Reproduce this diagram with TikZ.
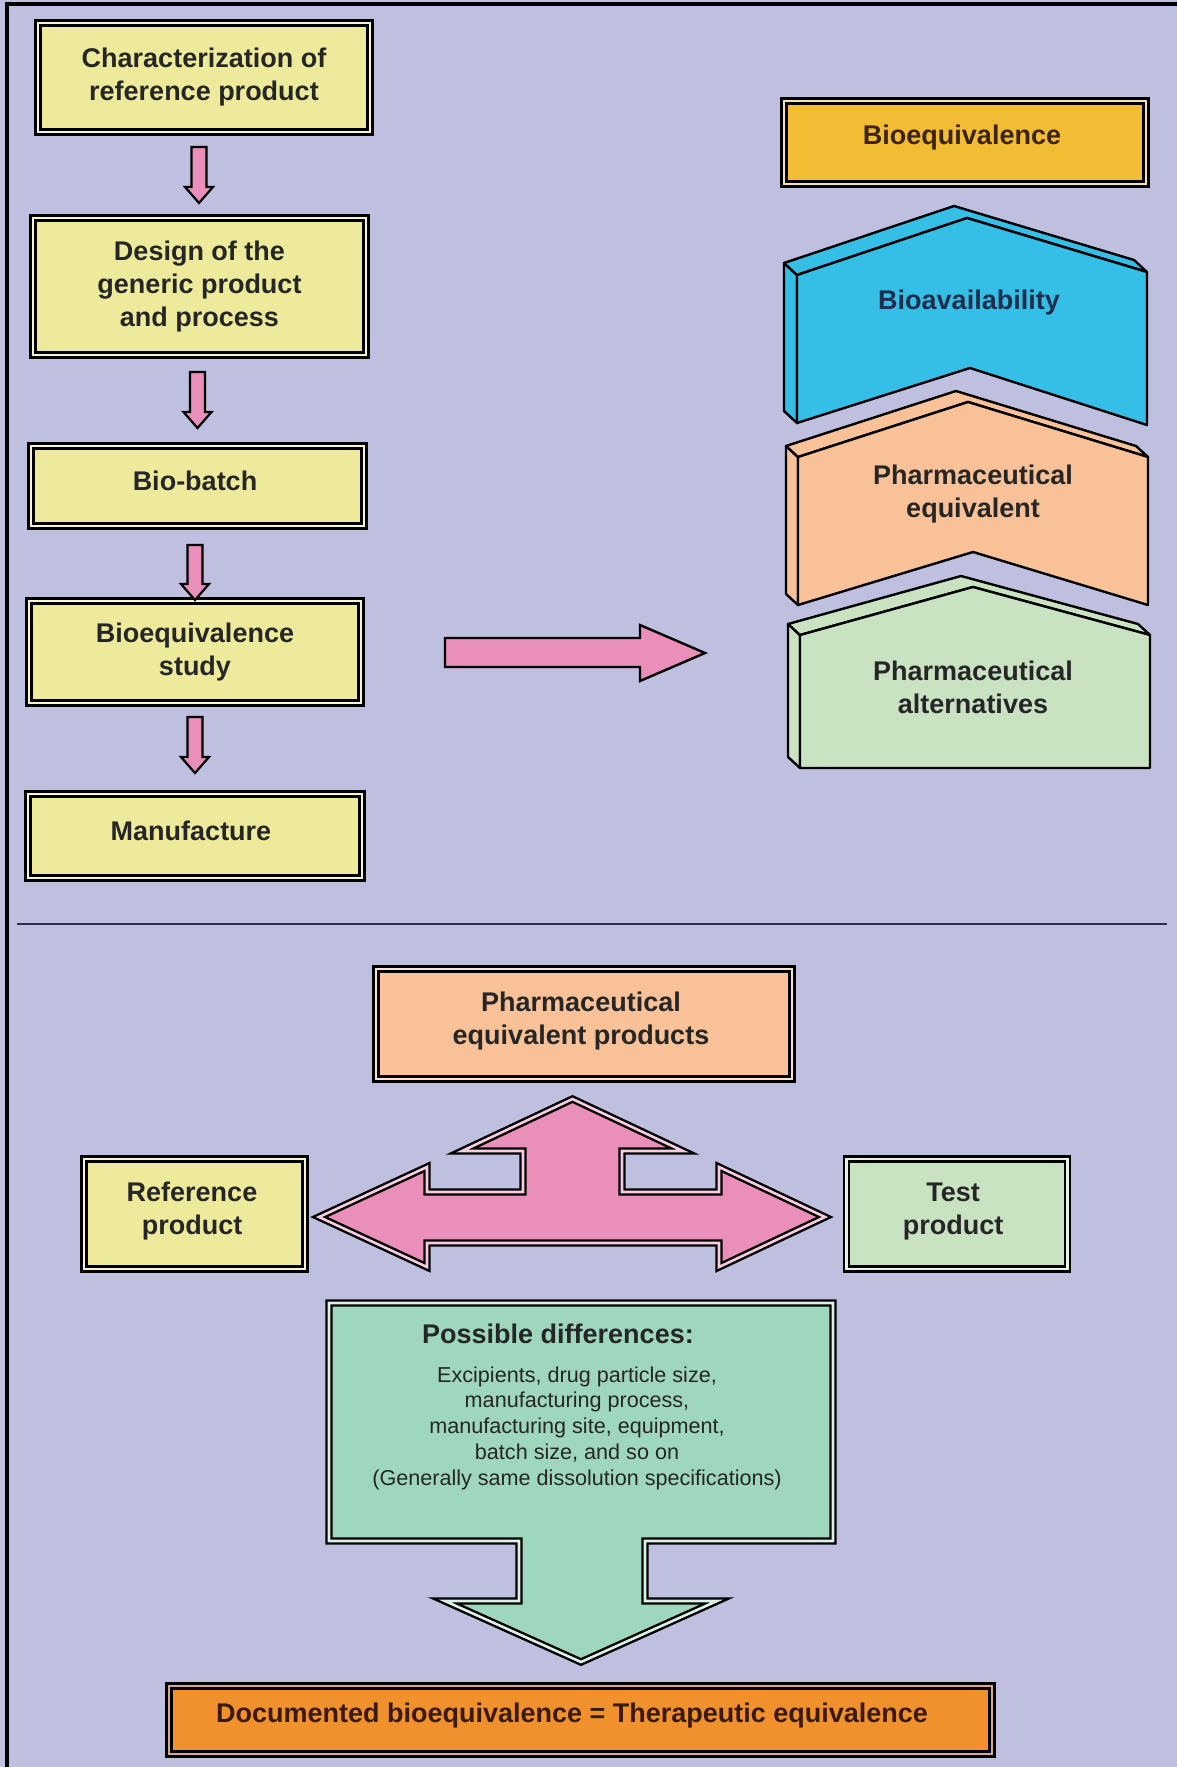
\documentclass[tikz,border=0pt]{standalone}
\usepackage{fontspec}
\setmainfont{Liberation Sans}
\definecolor{bgc}{HTML}{BFC0E0}
\definecolor{yel}{HTML}{EEEA9C}
\definecolor{yelgap}{HTML}{F7F4D2}
\definecolor{gold}{HTML}{F2BD34}
\definecolor{goldgap}{HTML}{F3E2B0}
\definecolor{bluec}{HTML}{35BEE6}
\definecolor{peach}{HTML}{F8C198}
\definecolor{peachgap}{HTML}{F9E2D2}
\definecolor{greenc}{HTML}{C8E2C2}
\definecolor{greengap}{HTML}{E6F2E2}
\definecolor{pinkc}{HTML}{EA8EBA}
\definecolor{pinkgap}{HTML}{F6CCE0}
\definecolor{mint}{HTML}{9ED7BE}
\definecolor{mintgap}{HTML}{DDF0E6}
\definecolor{orangec}{HTML}{F0912E}
\definecolor{orangegap}{HTML}{D8A894}
\definecolor{txtc}{HTML}{262626}
\definecolor{navyc}{HTML}{1F2E4A}
\definecolor{brownc}{HTML}{3B2414}
\definecolor{docc}{HTML}{3A1A0C}
\definecolor{sepc}{HTML}{2C2C4C}
\begin{document}
\begin{tikzpicture}[x=0.5pt,y=-0.5pt,
  txt/.style={font=\bfseries\fontsize{13.5}{16.5}\selectfont, text=txtc, align=center},
  small/.style={font=\fontsize{10.8}{12.85}\selectfont, text=txtc, align=center},
  dbox/.style={draw=black, line width=1.3pt, double distance=1.3pt, inner sep=0pt, txt},
  ybox/.style={dbox, fill=yel, double=yelgap},
  parrow/.style={draw=black, line width=1.1pt, fill=pinkc, line join=miter},
  dshape/.style={draw=black, line width=1.2pt, double distance=1.3pt, line join=miter},
  slab/.style={draw=black, line width=1.2pt, line join=round}]
\useasboundingbox (0,0) rectangle (1177,1767);
\fill[bgc] (0,0) rectangle (1177,1767);
\draw[line width=1.6pt] (7,1767) -- (7,4) -- (1177,4);
\draw[sepc, line width=1.1pt] (17,924) -- (1167,924);

% left column boxes
\node[ybox, minimum width=166pt, minimum height=54.5pt] (b1) at (204,77.5) {Characterization of\\reference product};
\node[ybox, minimum width=166.5pt, minimum height=68.5pt] (b2) at (199.5,286.5) {Design of the\\generic product\\and process};
\node[ybox, minimum width=166.5pt, minimum height=40pt] (b3) at (197.5,486) {};
\node[txt] (b3t) at (195,481) {Bio-batch};
\node[ybox, minimum width=166pt, minimum height=51pt] (b4) at (195,652) {Bioequivalence\\study};
\node[ybox, minimum width=167pt, minimum height=42pt] (b5) at (195,836) {};
\node[txt] (b5t) at (191,831) {Manufacture};

% small down arrows
\newcommand\darrow[3]{%
  \draw[parrow] (#1-7.5,#2) -- (#1+7.5,#2) -- (#1+7.5,#3-16) -- (#1+14,#3-16) -- (#1,#3) -- (#1-14,#3-16) -- (#1-7.5,#3-16) -- cycle;}
\darrow{199}{147}{203}
\darrow{197.5}{372}{428}
\darrow{195}{545}{600}
\darrow{195}{717}{773}

% big right arrow
\draw[parrow, line width=1.2pt] (445,638) -- (640,638) -- (640,625) -- (705,653) -- (640,681) -- (640,667) -- (445,667) -- cycle;

% right column
\node[dbox, fill=gold, double=goldgap, minimum width=181pt, minimum height=41.5pt] (bioeq) at (965,142.5) {};
\node[txt, text=brownc] (bioeqt) at (962,138) {Bioequivalence};

% blue slab
\filldraw[slab, fill=bluec] (797,275) -- (784,263) -- (784,411) -- (797,423) -- cycle;
\filldraw[slab, fill=bluec] (797,275) -- (784,263) -- (954,206) -- (1134,260) -- (1147,272) -- (967,218) -- cycle;
\filldraw[slab, fill=bluec] (797,275) -- (967,218) -- (1147,272) -- (1147,425) -- (970,368) -- (797,423) -- cycle;
\node[txt, text=navyc] (bioav) at (969,303) {Bioavailability};

% orange slab
\filldraw[slab, fill=peach] (798,457) -- (786,446) -- (786,594) -- (798,605) -- cycle;
\filldraw[slab, fill=peach] (798,457) -- (786,446) -- (956,391) -- (1136,446) -- (1148,457) -- (968,402) -- cycle;
\filldraw[slab, fill=peach] (798,457) -- (968,402) -- (1148,457) -- (1148,605) -- (973,552) -- (798,605) -- cycle;
\node[txt] (pheq) at (973,494) {Pharmaceutical\\equivalent};

% green slab
\filldraw[slab, fill=greenc] (800,635) -- (788,624) -- (788,757) -- (800,768) -- cycle;
\filldraw[slab, fill=greenc] (800,635) -- (788,624) -- (961,576) -- (1138,624) -- (1150,635) -- (973,587) -- cycle;
\filldraw[slab, fill=greenc] (800,635) -- (973,587) -- (1150,635) -- (1150,768) -- (800,768) -- cycle;
\node[txt] (phalt) at (973,687) {Pharmaceutical\\alternatives};

% bottom half
\node[dbox, fill=peach, double=peachgap, minimum width=208pt, minimum height=55pt] (pep) at (584,1024) {};
\node[txt] (pept) at (581,1021) {Pharmaceutical\\equivalent products};
\node[dbox, fill=yel, double=yelgap, minimum width=110.5pt, minimum height=55pt] (ref) at (194.5,1214) {};
\node[txt] (reft) at (192,1211) {Reference\\product};
\node[dbox, fill=greenc, double=greengap, minimum width=110.5pt, minimum height=55pt] (test) at (957,1214) {};
\node[txt] (testt) at (953,1211) {Test\\product};

% three-way arrow
\filldraw[dshape, fill=pinkc, double=pinkgap] (319,1217) -- (427,1167) -- (427,1192) -- (523,1192) -- (523,1151) -- (462,1151) -- (572.5,1099) -- (683,1151) -- (622,1151) -- (622,1192) -- (719,1192) -- (719,1167) -- (825,1217) -- (719,1267) -- (719,1243) -- (427,1243) -- (427,1267) -- cycle;

% possible differences arrow box
\filldraw[dshape, fill=mint, double=mintgap] (329,1303) -- (833,1303) -- (833,1541) -- (645,1541) -- (645,1601) -- (717,1601) -- (581,1662) -- (445,1601) -- (519,1601) -- (519,1541) -- (329,1541) -- cycle;
\node[txt, text=txtc] (pdt) at (558,1334) {Possible differences:};
\node[small] (pdl) at (577,1428) {Excipients, drug particle size,\\manufacturing process,\\manufacturing site, equipment,\\batch size, and so on\\(Generally same dissolution specifications)};

% documented
\node[dbox, fill=orangec, double=orangegap, minimum width=411.5pt, minimum height=34pt] (doc) at (580.5,1720) {};
\node[txt, text=docc] (doct) at (572,1715) {Documented bioequivalence = Therapeutic equivalence};
\end{tikzpicture}
\end{document}
